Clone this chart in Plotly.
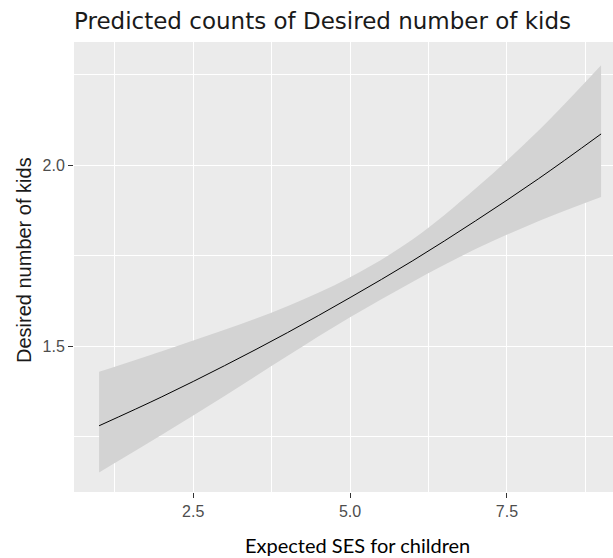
import plotly.graph_objects as go

# Expected SES for children (x) and predicted desired number of kids with 95% band
ses = [1, 2, 3, 4, 5, 6, 7, 8, 9]
predicted = [1.280, 1.360, 1.446, 1.537, 1.634, 1.736, 1.846, 1.962, 2.086]
conf_low = [1.151, 1.255, 1.362, 1.473, 1.580, 1.678, 1.768, 1.845, 1.912]
conf_high = [1.429, 1.486, 1.545, 1.610, 1.690, 1.795, 1.935, 2.095, 2.276]

x_ticks = [2.5, 5.0, 7.5]
x_tick_labels = ["2.5", "5.0", "7.5"]
x_minor = [1.25, 3.75, 6.25, 8.75]
y_ticks = [1.5, 2.0]
y_tick_labels = ["1.5", "2.0"]
y_minor = [1.25, 1.75, 2.25]

title_text = "Predicted counts of Desired number of kids"
x_title = "Expected SES for children"
y_title = "Desired number of kids"

W, H = 613, 558
L, R, T, B = 74, 0, 42, 66
plot_w = W - L - R
plot_h = H - T - B

fig = go.Figure()
fig.add_trace(go.Scatter(
    x=ses, y=conf_low, mode="lines",
    line=dict(width=0, shape="spline", color="rgba(0,0,0,0)"),
    hoverinfo="skip", showlegend=False))
fig.add_trace(go.Scatter(
    x=ses, y=conf_high, mode="lines",
    line=dict(width=0, shape="spline", color="rgba(0,0,0,0)"),
    fill="tonexty", fillcolor="#D3D3D3",
    hoverinfo="skip", showlegend=False))
fig.add_trace(go.Scatter(
    x=ses, y=predicted, mode="lines",
    line=dict(color="black", width=1, shape="spline"),
    showlegend=False))

tick_font = dict(family="Liberation Sans, Arial, sans-serif", size=16, color="#4D4D4D")

fig.update_layout(
    width=W, height=H,
    margin=dict(l=L, r=R, t=T, b=B, pad=0),
    paper_bgcolor="white",
    plot_bgcolor="#EBEBEB",
    title=dict(
        text=title_text,
        font=dict(family="DejaVu Sans, sans-serif", size=23, color="#1A1A1A"),
        xref="paper", x=0.0, xanchor="left",
        yref="container", y=1 - 21 / H, yanchor="middle",
    ),
    xaxis=dict(
        range=[0.6, 9.19],
        tickvals=x_ticks, ticktext=x_tick_labels,
        ticks="outside", ticklen=5, tickwidth=1, tickcolor="#333333",
        tickfont=tick_font,
        showgrid=True, gridcolor="white", gridwidth=1.3,
        zeroline=False, showline=False,
        minor=dict(tickvals=x_minor, showgrid=True, gridcolor="white",
                   gridwidth=0.6, ticks=""),
    ),
    yaxis=dict(
        range=[1.097, 2.34],
        tickvals=y_ticks, ticktext=y_tick_labels,
        ticks="outside", ticklen=5, tickwidth=1, tickcolor="#333333",
        tickfont=tick_font,
        showgrid=True, gridcolor="white", gridwidth=1.3,
        zeroline=False, showline=False,
        minor=dict(tickvals=y_minor, showgrid=True, gridcolor="white",
                   gridwidth=0.6, ticks=""),
    ),
    annotations=[
        dict(text=x_title, xref="paper", yref="paper",
             x=(357 - L) / plot_w, y=(H - B - 545) / plot_h,
             xanchor="center", yanchor="middle", showarrow=False,
             font=dict(family="Lato, sans-serif", size=20, color="black")),
        dict(text=y_title, xref="paper", yref="paper",
             x=(24 - L) / plot_w, y=(H - B - 260) / plot_h,
             xanchor="center", yanchor="middle", showarrow=False,
             textangle=-90,
             font=dict(family="Liberation Sans, Arial, sans-serif", size=20, color="#1A1A1A")),
    ],
)

fig.write_html("out.html")
